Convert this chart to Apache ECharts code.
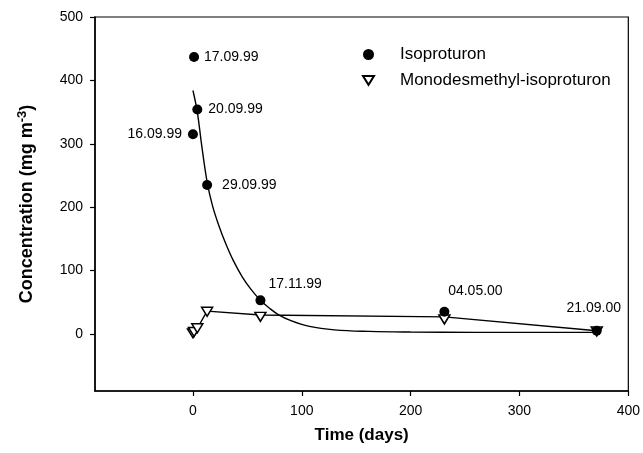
<!DOCTYPE html>
<html>
<head>
<meta charset="utf-8">
<script src="https://cdn.jsdelivr.net/npm/echarts@6/dist/echarts.min.js"></script>
<style>html,body{margin:0;padding:0;background:#fff}#c{width:643px;height:453px}</style>
</head>
<body>
<div id="c"></div>
<script>
// ---- data ----
const sampleDays = [0, 1, 4, 13, 62, 231, 371];
const sampleDates = ['16.09.99', '17.09.99', '20.09.99', '29.09.99', '17.11.99', '04.05.00', '21.09.00'];
const isoproturon = [315, 437, 354, 235, 53, 35, 5];
const monodesmethyl = [1, 3, 9, 35, 27, 23, 4];
// curve fitted through isoproturon
const isoFitDays = [0, 4, 8, 13, 18, 24, 30, 37, 45, 53, 62, 70, 78, 90, 107, 130, 162, 200, 260, 372];
const isoFitValues = [384, 350, 298, 240, 202, 170, 143, 116, 91, 71, 53, 41, 31, 21, 12, 6.5, 4, 3, 2.5, 2.5];
// line through monodesmethyl-isoproturon
const miLineDays = [0, 1, 4, 13, 62, 231, 371];
const miLineValues = [1, 3, 9, 36, 30, 27, 5];
const xTicks = [0, 100, 200, 300, 400];
const yTicks = [0, 100, 200, 300, 400, 500];
const seriesNames = ['Isoproturon', 'Monodesmethyl-isoproturon'];

// ---- label placement (style only) ----
const labelPlace = [
  {position: 'left', distance: 6},
  {position: 'right', distance: 5},
  {position: 'right', distance: 6},
  {position: 'right', distance: 10},
  {position: 'right', distance: 3, offset: [0, -16]},
  {position: 'top', distance: 9, offset: [31, 0]},
  {position: 'top', distance: 11, offset: [-3, 0]}
];

const FONT = '"Liberation Sans", Arial, Helvetica, sans-serif';

const isoData = sampleDays.map((d, i) => ({
  value: [d, isoproturon[i]],
  label: Object.assign({show: true, formatter: sampleDates[i], color: '#000', fontSize: 14, fontFamily: FONT}, labelPlace[i])
}));
const miData = sampleDays.map((d, i) => [d, monodesmethyl[i]]);
const fitData = isoFitDays.map((d, i) => [d, isoFitValues[i]]);
const miLine = miLineDays.map((d, i) => [d, miLineValues[i]]);

const chart = echarts.init(document.getElementById('c'), null, {renderer: 'canvas'});
chart.setOption({
  animation: false,
  backgroundColor: '#fff',
  textStyle: {fontFamily: FONT, color: '#000'},
  grid: {left: 95, right: 13, top: 17, bottom: 62, show: true, borderColor: '#000', borderWidth: 1.2, backgroundColor: 'transparent'},
  legend: {
    orient: 'vertical', left: 357, top: 41, itemGap: 9,
    itemWidth: 11, itemHeight: 11,
    data: [
      {name: seriesNames[0], icon: 'circle'},
      {name: seriesNames[1], icon: 'path://M0,0 L10,0 L5,8 Z'}
    ],
    textStyle: {fontSize: 17, color: '#000', fontFamily: FONT, padding: [0, 0, 0, 21]}
  },
  xAxis: {
    type: 'value', min: -90, max: 400,
    splitLine: {show: false},
    axisLine: {show: true, onZero: false, lineStyle: {color: '#000', width: 1.5}},
    axisTick: {show: true, inside: false, length: 5, customValues: xTicks, lineStyle: {color: '#000', width: 1.2}},
    axisLabel: {customValues: xTicks, margin: 13, fontSize: 14, color: '#000', fontFamily: FONT},
    name: 'Time (days)', nameLocation: 'middle', nameGap: 36,
    nameTextStyle: {fontSize: 17, fontWeight: 'bold', color: '#000', fontFamily: FONT}
  },
  yAxis: {
    type: 'value', min: -90, max: 500,
    splitLine: {show: false},
    axisLine: {show: true, onZero: false, lineStyle: {color: '#000', width: 1.5}},
    axisTick: {show: true, inside: false, length: 5, customValues: yTicks, lineStyle: {color: '#000', width: 1.2}},
    axisLabel: {customValues: yTicks, margin: 12, fontSize: 14, color: '#000', fontFamily: FONT},
    name: 'Concentration (mg m{sup|-3})', nameLocation: 'middle', nameGap: 56,
    nameTextStyle: {
      fontSize: 18, fontWeight: 'bold', color: '#000', fontFamily: FONT,
      rich: {sup: {fontSize: 13, fontWeight: 'bold', verticalAlign: 'top', padding: [0, 0, 10, 0], fontFamily: FONT, color: '#000'}}
    }
  },
  series: [
    {
      name: 'fit', type: 'line', data: fitData, showSymbol: false, symbol: 'none',
      smooth: 0.4, silent: true, z: 1,
      lineStyle: {color: '#000', width: 1.4}
    },
    {
      name: 'miline', type: 'line', data: miLine, showSymbol: false, symbol: 'none',
      silent: true, z: 1, lineStyle: {color: '#000', width: 1.4}
    },
    {
      name: seriesNames[1], type: 'scatter', data: miData, z: 3,
      symbol: 'triangle', symbolRotate: 180, symbolSize: [11, 9],
      itemStyle: {color: '#fff', borderColor: '#000', borderWidth: 1.5, opacity: 1}
    },
    {
      name: seriesNames[0], type: 'scatter', data: isoData, z: 4,
      symbol: 'circle', symbolSize: 10,
      itemStyle: {color: '#000', opacity: 1}
    }
  ]
});
</script>
</body>
</html>
